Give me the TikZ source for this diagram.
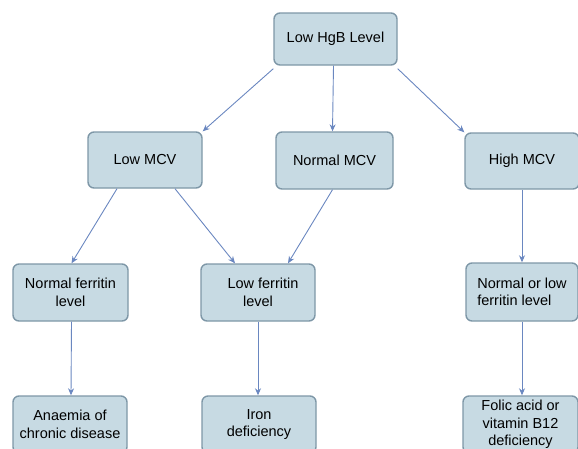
\documentclass[tikz,border=0pt]{standalone}
\usepackage{fontspec}
\setmainfont{Liberation Sans}
\usetikzlibrary{arrows.meta}
\definecolor{boxfill}{HTML}{C7DAE3}
\definecolor{boxline}{HTML}{7E97A7}
\definecolor{arrowc}{HTML}{6A87C0}
\begin{document}
\begin{tikzpicture}[x=1pt,y=-1pt,
  box/.style={draw=boxline,fill=boxfill,line width=1.4pt,rounded corners=6pt,
    inner sep=0pt,align=center,font=\fontsize{14.5}{17.5}\selectfont},
  arr/.style={draw=arrowc,line width=0.9pt,-{Stealth[length=7pt,width=6pt]}}]
\useasboundingbox (0,0) rectangle (578,448);
\clip (0,0) rectangle (578,448);
\node[box,minimum width=123pt,minimum height=52pt] (hgb) at (335.5,39) {Low HgB Level};
\node[box,minimum width=114pt,minimum height=56pt] (lmcv) at (145,160) {Low MCV};
\node[box,minimum width=117pt,minimum height=57pt] (nmcv) at (334.5,160.5) {Normal MCV};
\node[box,minimum width=114pt,minimum height=56pt] (hmcv) at (522,161) {High MCV};
\node[box,minimum width=115pt,minimum height=57pt] (nfer) at (70.5,292.5) {Normal ferritin\\level};
\node[box,minimum width=114pt,minimum height=57pt] (lfer) at (258,292.5) {\hspace*{10pt}Low ferritin\\level};
\node[box,minimum width=112pt,minimum height=58pt,align=left] (nlfer) at (522,292) {Normal or low\\ferritin level};
\node[box,minimum width=114pt,minimum height=57pt] (acd) at (70,424.5) {Anaemia of\\chronic disease};
\node[box,minimum width=114pt,minimum height=57pt] (iron) at (259,424.5) {Iron\\deficiency};
\node[box,minimum width=115pt,minimum height=57pt] (folic) at (520.5,424.5) {Folic acid or\\vitamin B12\\deficiency};
\draw[arr] (hgb.south west) ++(0,-3pt) coordinate (a1) -- (lmcv.north east);
\draw[arr] (hgb.south) ++(-2pt,0) -- ([xshift=-2pt]nmcv.north);
\draw[arr] (hgb.south east) ++(0,-3pt) -- (hmcv.north west);
\draw[arr] ([xshift=-28pt]lmcv.south) -- ([xshift=1pt]nfer.north);
\draw[arr] ([xshift=30pt]lmcv.south) -- ([xshift=-23pt]lfer.north);
\draw[arr] ([xshift=-2pt]nmcv.south) -- ([xshift=30pt]lfer.north);
\draw[arr] (hmcv.south) -- (nlfer.north);
\draw[arr] ([xshift=1pt]nfer.south) -- ([xshift=1pt]acd.north);
\draw[arr] (lfer.south) -- ([xshift=-1pt]iron.north);
\draw[arr] (nlfer.south) -- ([xshift=1.5pt]folic.north);
\end{tikzpicture}
\end{document}
